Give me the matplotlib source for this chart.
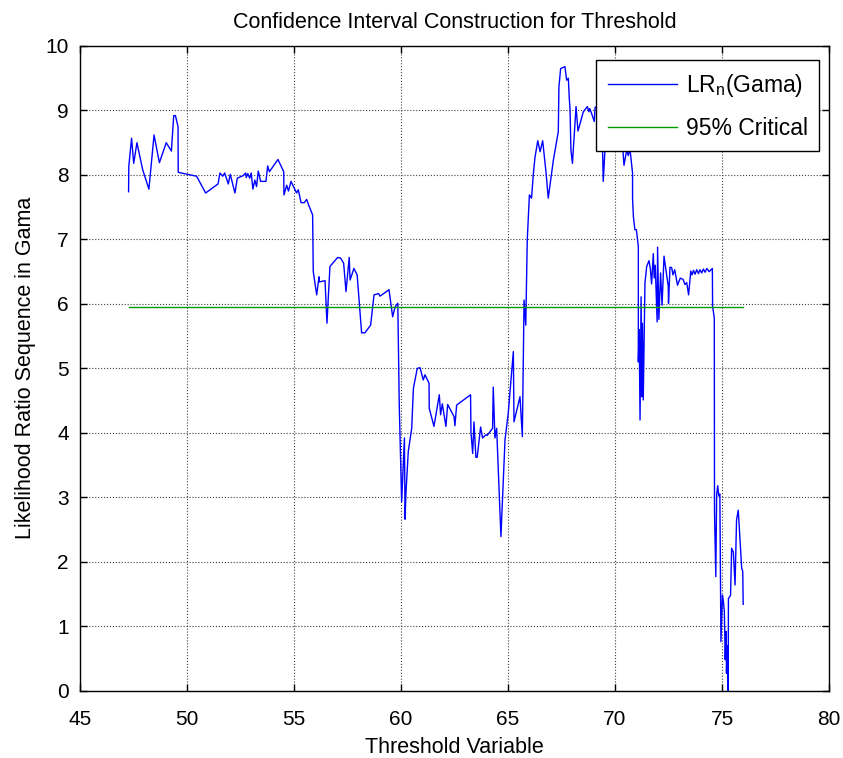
import matplotlib
matplotlib.use('Agg')
import matplotlib.pyplot as plt

plt.rcParams['font.family'] = ['Liberation Sans', 'DejaVu Sans']

# threshold values and LR sequence
threshold = [
    47.27, 47.28, 47.41, 47.51, 47.66, 47.93, 48.22, 48.46, 48.71, 49.03,
    49.27, 49.38, 49.46, 49.58, 49.59, 50.45, 50.87, 51.45, 51.54, 51.67,
    51.76, 51.93, 52.02, 52.24, 52.35, 52.63, 52.74, 52.77, 52.84, 52.93,
    53.00, 53.08, 53.17, 53.25, 53.33, 53.44, 53.69, 53.77, 53.85, 54.25,
    54.52, 54.53, 54.66, 54.74, 54.86, 55.12, 55.20, 55.33, 55.48, 55.59,
    55.70, 55.87, 55.90, 56.06, 56.17, 56.18, 56.45, 56.54, 56.68, 57.04,
    57.18, 57.32, 57.43, 57.58, 57.62, 57.80, 57.95, 58.16, 58.31, 58.58,
    58.74, 58.95, 59.02, 59.44, 59.61, 59.72, 59.85, 59.92, 60.03, 60.16,
    60.19, 60.23, 60.34, 60.50, 60.58, 60.76, 60.89, 61.04, 61.12, 61.31,
    61.32, 61.54, 61.79, 61.85, 61.93, 62.10, 62.18, 62.48, 62.52, 62.60,
    63.25, 63.27, 63.35, 63.41, 63.50, 63.56, 63.72, 63.81, 63.97, 64.03,
    64.28, 64.31, 64.39, 64.47, 64.67, 64.86, 65.01, 65.25, 65.28, 65.56,
    65.67, 65.75, 65.83, 65.90, 66.00, 66.10, 66.18, 66.26, 66.39, 66.50,
    66.62, 66.78, 66.88, 67.12, 67.35, 67.38, 67.46, 67.66, 67.74, 67.82,
    67.86, 67.90, 67.94, 68.01, 68.18, 68.27, 68.52, 68.71, 68.78, 68.82,
    68.90, 69.03, 69.07, 69.17, 69.30, 69.42, 69.45, 69.55, 69.80, 70.00,
    70.20, 70.37, 70.42, 70.55, 70.62, 70.70, 70.82, 70.82, 70.86, 70.93,
    71.00, 71.09, 71.09, 71.13, 71.17, 71.22, 71.25, 71.28, 71.32, 71.40,
    71.48, 71.59, 71.65, 71.71, 71.79, 71.83, 71.88, 71.97, 71.99, 72.05,
    72.13, 72.20, 72.29, 72.49, 72.50, 72.57, 72.65, 72.71, 72.79, 72.92,
    73.05, 73.18, 73.27, 73.35, 73.44, 73.54, 73.60, 73.67, 73.74, 73.82,
    73.90, 73.97, 74.05, 74.13, 74.21, 74.29, 74.40, 74.55, 74.56, 74.64,
    74.65, 74.66, 74.71, 74.75, 74.80, 74.85, 74.90, 74.95, 75.02, 75.06,
    75.11, 75.15, 75.19, 75.21, 75.24, 75.29, 75.30, 75.40, 75.45, 75.53,
    75.61, 75.68, 75.76, 75.85, 75.92, 75.97, 75.99,
]
lr_gama = [
    7.74, 8.13, 8.57, 8.18, 8.50, 8.08, 7.78, 8.62, 8.19, 8.50,
    8.37, 8.92, 8.92, 8.75, 8.04, 7.98, 7.72, 7.86, 8.03, 7.98,
    8.03, 7.86, 8.01, 7.72, 7.95, 7.99, 8.03, 7.96, 8.02, 7.95,
    8.03, 7.78, 7.92, 7.82, 8.06, 7.90, 7.90, 8.14, 8.05, 8.24,
    8.05, 7.69, 7.84, 7.75, 7.90, 7.72, 7.77, 7.57, 7.57, 7.62,
    7.52, 7.38, 6.50, 6.14, 6.42, 6.34, 6.36, 5.70, 6.58, 6.72,
    6.71, 6.63, 6.19, 6.72, 6.37, 6.55, 6.45, 5.55, 5.55, 5.67,
    6.14, 6.16, 6.12, 6.22, 5.80, 5.95, 6.01, 4.41, 2.93, 3.92,
    2.66, 3.06, 3.71, 4.07, 4.69, 5.00, 5.01, 4.82, 4.90, 4.77,
    4.38, 4.10, 4.59, 4.28, 4.45, 4.10, 4.44, 4.25, 4.11, 4.43,
    4.59, 4.00, 3.68, 4.17, 3.62, 3.62, 4.09, 3.92, 3.97, 3.96,
    4.07, 4.71, 3.92, 4.07, 2.39, 3.89, 4.30, 5.26, 4.17, 4.56,
    3.94, 6.06, 5.67, 6.99, 7.69, 7.64, 8.00, 8.27, 8.53, 8.36,
    8.53, 8.03, 7.64, 8.23, 8.67, 9.37, 9.65, 9.68, 9.47, 9.50,
    9.21, 9.01, 8.39, 8.18, 9.06, 8.68, 8.98, 9.06, 8.98, 9.03,
    8.96, 8.83, 9.05, 9.06, 8.70, 8.39, 7.90, 8.50, 8.90, 8.60,
    8.80, 8.39, 8.15, 8.39, 8.30, 8.40, 8.03, 7.64, 7.35, 7.15,
    7.15, 6.89, 5.10, 5.60, 4.20, 6.11, 4.56, 5.70, 4.51, 6.32,
    6.58, 6.67, 6.55, 6.31, 6.78, 6.40, 6.60, 5.72, 6.88, 5.76,
    6.48, 5.98, 6.74, 6.27, 6.01, 6.57, 6.56, 6.45, 6.53, 6.29,
    6.40, 6.38, 6.30, 6.33, 6.14, 6.51, 6.45, 6.52, 6.46, 6.53,
    6.47, 6.53, 6.48, 6.54, 6.49, 6.55, 6.50, 6.55, 5.96, 5.78,
    2.80, 2.60, 1.77, 3.04, 3.18, 3.02, 3.05, 0.76, 1.48, 1.40,
    1.23, 0.48, 0.92, 0.27, 0.70, 0.00, 1.43, 1.48, 2.21, 2.15,
    1.64, 2.65, 2.80, 2.30, 1.90, 1.85, 1.34,
]
critical = 5.95

fig = plt.figure(figsize=(8.43, 7.58), dpi=100)
ax = fig.add_axes([80/843, 1 - 690.7/758, 749/843, 644.7/758])

ax.plot(threshold, lr_gama, color=(0, 0, 1), linewidth=1.0, label=r'LR$_\mathregular{n}$(Gama)')
ax.plot([threshold[0], threshold[-1]], [critical, critical], color=(0, 0.6, 0), linewidth=1.0,
        label='95% Critical')

ax.set_xlim(45, 80)
ax.set_ylim(0, 10)
ax.set_xticks(range(45, 81, 5))
ax.set_yticks(range(0, 11))
ax.grid(True, linestyle=':', color='#404040', linewidth=0.8)
ax.tick_params(direction='in', top=True, right=True, length=5, labelsize=15, width=1)
ax.tick_params(axis='x', pad=14)
ax.tick_params(axis='y', pad=8)
for s in ax.spines.values():
    s.set_linewidth(1.0)

ax.set_title('Confidence Interval Construction for Threshold', fontsize=15.5, pad=13)
ax.set_xlabel('Threshold Variable', fontsize=15.5, labelpad=6)
ax.set_ylabel('Likelihood Ratio Sequence in Gama', fontsize=15.5, labelpad=7)

leg = ax.legend(loc='upper right', bbox_to_anchor=(0.987, 0.978), borderaxespad=0,
                fancybox=False, edgecolor='black', fontsize=16.5, handlelength=3.0,
                framealpha=1, labelspacing=0.8, borderpad=0.5, handletextpad=0.4)
leg.get_frame().set_linewidth(1.0)

fig.savefig('out.png', dpi=100)
